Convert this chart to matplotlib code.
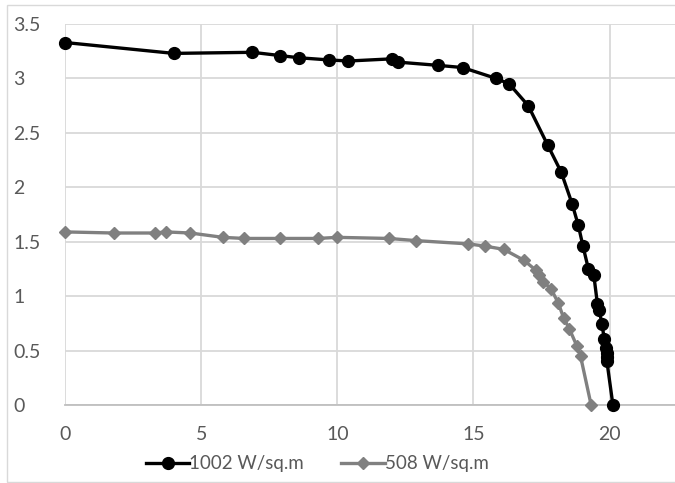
import matplotlib
matplotlib.use("Agg")
import matplotlib.pyplot as plt
from matplotlib.patches import Rectangle

plt.rcParams['font.family'] = ['Lato', 'DejaVu Sans']

# ---------- data

v_1002 = [0.0, 3.99, 6.88, 7.9, 8.58, 9.69, 10.41, 12.01, 12.22, 13.7, 14.6,
          15.83, 16.31, 17.01, 17.72, 18.22, 18.62, 18.85, 19.02, 19.22, 19.42,
          19.55, 19.62, 19.72, 19.8, 19.88, 19.9, 19.9, 19.9, 20.12]
i_1002 = [3.33, 3.23, 3.24, 3.21, 3.19, 3.17, 3.16, 3.18, 3.15, 3.12, 3.10,
          3.00, 2.95, 2.75, 2.39, 2.14, 1.85, 1.65, 1.46, 1.25, 1.19,
          0.93, 0.87, 0.74, 0.61, 0.52, 0.48, 0.44, 0.40, 0.0]

v_508 = [0.0, 1.79, 3.3, 3.7, 4.6, 5.8, 6.58, 7.9, 9.28, 10.0, 11.89, 12.9,
         14.81, 15.41, 16.11, 16.85, 17.28, 17.41, 17.57, 17.84, 18.11, 18.31,
         18.52, 18.8, 18.93, 19.32]
i_508 = [1.59, 1.58, 1.58, 1.59, 1.58, 1.54, 1.53, 1.53, 1.53, 1.54, 1.53, 1.51,
         1.48, 1.46, 1.43, 1.33, 1.24, 1.19, 1.13, 1.07, 0.94, 0.80,
         0.70, 0.54, 0.45, 0.0]

labels = ['1002 W/sq.m', '508 W/sq.m']

#---------- plot

fig = plt.figure(figsize=(6.75, 4.83), dpi=100)
ax = fig.add_axes([65/675, 1-405/483, 1-65/675, (405-24)/483])

ax.plot(v_1002, i_1002, '-', color='black', lw=2.4, marker='o', ms=8.5,
        label=labels[0], zorder=3, clip_on=False)
ax.plot(v_508, i_508, '-', color='#808080', lw=2.4, marker='D', ms=6.5,
        label=labels[1], zorder=3, clip_on=False)

ax.set_xlim(0, 22.4)
ax.set_ylim(0, 3.5)
ax.set_xticks([0, 5, 10, 15, 20])
ax.set_yticks([0, 0.5, 1, 1.5, 2, 2.5, 3, 3.5])
ax.set_yticklabels(['0', '0.5', '1', '1.5', '2', '2.5', '3', '3.5'])
ax.grid(True, color='#d9d9d9', lw=1.3)
ax.set_axisbelow(True)
for s in ['top', 'right', 'left']:
    ax.spines[s].set_visible(False)
ax.spines['bottom'].set_color('#bfbfbf')
ax.spines['bottom'].set_linewidth(1.3)
ax.tick_params(length=0, labelsize=14, labelcolor='#595959')
ax.tick_params(axis='x', pad=15)
ax.tick_params(axis='y', pad=37)
for lab in ax.get_yticklabels():
    lab.set_horizontalalignment('left')

handles1, labels1 = ax.get_legend_handles_labels()
leg = fig.legend(handles1, labels1, loc='center', bbox_to_anchor=(0.47, 1-464/483),
                 ncol=2, frameon=False, fontsize=13.5, handlelength=2.3,
                 handletextpad=0.0, columnspacing=2.0)
for t in leg.get_texts():
    t.set_color('#595959')

fig.patches.append(Rectangle((7/675, 1-482/483), 1.0, 477/483, transform=fig.transFigure,
                             fill=False, edgecolor='#d9d9d9', lw=1.0))

plt.savefig("out.png")
plt.close()
